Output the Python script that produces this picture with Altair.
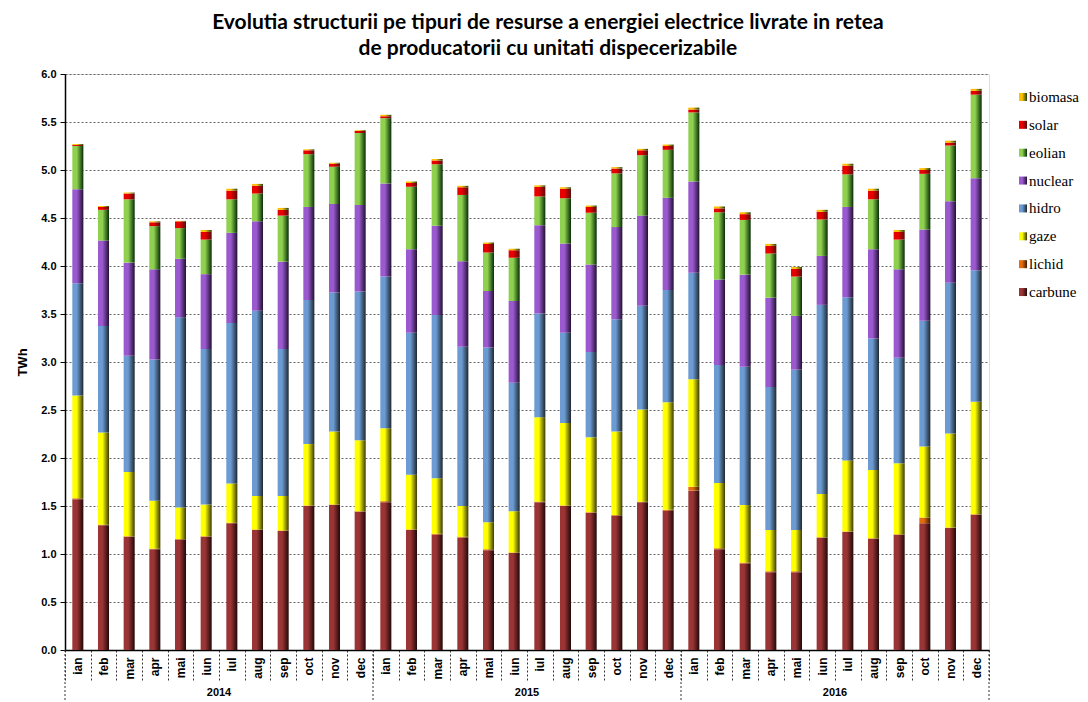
import altair as alt
import pandas as pd

years = ["2014", "2015", "2016"]
months = ["ian", "feb", "mar", "apr", "mai", "iun", "iul", "aug", "sep", "oct", "nov", "dec"]

series_names = ["carbune", "lichid", "gaze", "hidro", "nuclear", "eolian", "solar", "biomasa"]

carbune = [1.57, 1.30, 1.18, 1.05, 1.15, 1.18, 1.32, 1.25, 1.24, 1.50, 1.51, 1.44,
           1.54, 1.25, 1.20, 1.17, 1.04, 1.01, 1.54, 1.50, 1.43, 1.40, 1.54, 1.45,
           1.66, 1.05, 0.90, 0.81, 0.81, 1.17, 1.23, 1.16, 1.20, 1.32, 1.27, 1.41]
lichid = [0.01, 0.005, 0.005, 0.005, 0.005, 0.005, 0.005, 0.005, 0.005, 0.005, 0.005, 0.005,
          0.01, 0.005, 0.01, 0.01, 0.01, 0.005, 0.005, 0.005, 0.005, 0.005, 0.005, 0.01,
          0.04, 0.01, 0.01, 0.01, 0.01, 0.005, 0.005, 0.005, 0.005, 0.06, 0.005, 0.005]
gaze = [1.07, 0.96, 0.67, 0.50, 0.33, 0.33, 0.41, 0.35, 0.36, 0.64, 0.76, 0.74,
        0.76, 0.57, 0.58, 0.32, 0.28, 0.43, 0.88, 0.86, 0.78, 0.87, 0.96, 1.12,
        1.12, 0.68, 0.60, 0.43, 0.43, 0.45, 0.74, 0.71, 0.74, 0.74, 0.98, 1.17]
hidro = [1.17, 1.11, 1.21, 1.47, 1.98, 1.62, 1.67, 1.93, 1.53, 1.50, 1.45, 1.55,
         1.58, 1.48, 1.70, 1.66, 1.82, 1.34, 1.08, 0.94, 0.89, 1.17, 1.08, 1.17,
         1.11, 1.23, 1.44, 1.49, 1.67, 1.97, 1.70, 1.37, 1.10, 1.31, 1.57, 1.37]
nuclear = [0.98, 0.89, 0.97, 0.94, 0.61, 0.78, 0.94, 0.93, 0.91, 0.97, 0.92, 0.90,
           0.97, 0.87, 0.93, 0.89, 0.59, 0.85, 0.92, 0.93, 0.91, 0.96, 0.94, 0.96,
           0.95, 0.89, 0.96, 0.93, 0.56, 0.51, 0.94, 0.93, 0.92, 0.95, 0.85, 0.96]
eolian = [0.45, 0.32, 0.66, 0.45, 0.32, 0.36, 0.35, 0.29, 0.48, 0.55, 0.39, 0.75,
          0.68, 0.65, 0.64, 0.69, 0.40, 0.45, 0.30, 0.47, 0.54, 0.56, 0.63, 0.50,
          0.72, 0.70, 0.57, 0.46, 0.41, 0.38, 0.34, 0.52, 0.31, 0.58, 0.58, 0.87]
solar = [0.01, 0.03, 0.06, 0.04, 0.07, 0.08, 0.09, 0.08, 0.06, 0.04, 0.03, 0.02,
         0.02, 0.04, 0.04, 0.08, 0.09, 0.08, 0.10, 0.10, 0.06, 0.05, 0.05, 0.04,
         0.03, 0.04, 0.06, 0.08, 0.08, 0.08, 0.09, 0.09, 0.08, 0.04, 0.03, 0.04]
biomasa = [0.01, 0.01, 0.01, 0.01, 0.005, 0.02, 0.02, 0.02, 0.02, 0.01, 0.01, 0.01,
           0.015, 0.015, 0.015, 0.015, 0.015, 0.015, 0.015, 0.015, 0.015, 0.015, 0.015, 0.015,
           0.02, 0.02, 0.02, 0.02, 0.02, 0.02, 0.02, 0.02, 0.02, 0.02, 0.02, 0.02]

series_values = [carbune, lichid, gaze, hidro, nuclear, eolian, solar, biomasa]

light = ["#9b3535", "#e46c0a", "#ffff00", "#6b9bd2", "#9b59d0", "#8fd14f", "#e80000", "#ffc000"]
dark = ["#220808", "#3a1b02", "#3a3a00", "#1e2830", "#221034", "#062e06", "#5a0c0c", "#1a4010"]

keys = [f"{y}|{m}" for y in years for m in months]

rows = []
for si, (name, vals) in enumerate(zip(series_names, series_values)):
    for k, v in zip(keys, vals):
        rows.append({"key": k, "series": name, "order": si, "value": v})
df = pd.DataFrame(rows)

W, H = 924, 576


def grad(i):
    return alt.LinearGradient(
        gradient="linear", x1=0, x2=1, y1=0, y2=0,
        stops=[alt.GradientStop(color=light[i], offset=0),
               alt.GradientStop(color=light[i], offset=0.4),
               alt.GradientStop(color=dark[i], offset=1)])


x_enc = alt.X("key:N", sort=keys,
              scale=alt.Scale(paddingInner=0, paddingOuter=0),
              axis=alt.Axis(title=None,
                            labelExpr="split(datum.label, '|')[1]",
                            labelAngle=270, labelAlign="right", labelBaseline="middle",
                            labelFont="Liberation Sans", labelFontWeight="bold",
                            labelFontSize=12, labelColor="black",
                            tickBand="extent", tickSize=32, tickColor="#333",
                            tickDash=[2, 2], labelPadding=-25,
                            domainColor="black", domainWidth=1.5, grid=False))
y_enc = alt.Y("y1:Q", scale=alt.Scale(domain=[0, 6], nice=False),
              axis=alt.Axis(values=[i * 0.5 for i in range(13)], format=".1f",
                            title="TWh", titleFont="Liberation Sans", titleFontSize=13,
                            titleFontWeight="bold", titleColor="black", titlePadding=11,
                            labelFont="Liberation Sans", labelFontWeight="bold",
                            labelFontSize=11, labelColor="black", labelPadding=4,
                            tickSize=5, tickColor="black", domainColor="black",
                            domainWidth=1.5, gridColor="#666", gridDash=[2, 2]))

base = alt.Chart(df).transform_stack(
    stack="value", groupby=["key"], as_=["y0", "y1"],
    sort=[alt.SortField("order", "ascending")])

layers = []
for i, name in enumerate(series_names):
    layers.append(
        base.transform_filter(alt.datum.series == name)
        .mark_bar(color=grad(i), width=alt.RelativeBandSize(0.43))
        .encode(x=x_enc, y=y_enc, y2="y0:Q")
    )

year_df = pd.DataFrame({"key": [f"{y}|iul" for y in years], "year": years})
year_text = alt.Chart(year_df).mark_text(
    font="Liberation Sans", fontWeight="bold", fontSize=11, color="black", baseline="middle"
).encode(x=alt.X("key:N", sort=keys, bandPosition=0), y=alt.value(H + 43), text="year:N")

sep_df = pd.DataFrame({"key": [f"{y}|ian" for y in years]})
sep_rules = alt.Chart(sep_df).mark_rule(color="#333", strokeDash=[2, 2]).encode(
    x=alt.X("key:N", sort=keys, bandPosition=0), y=alt.value(H), y2=alt.value(H + 60))
end_df = pd.DataFrame({"key": [keys[-1]]})
end_rule = alt.Chart(end_df).mark_rule(color="#333", strokeDash=[2, 2]).encode(
    x=alt.X("key:N", sort=keys, bandPosition=1), y=alt.value(H), y2=alt.value(H + 60))

main = alt.layer(*layers, year_text, sep_rules, end_rule).properties(width=W, height=H)

legend_order = ["biomasa", "solar", "eolian", "nuclear", "hidro", "gaze", "lichid", "carbune"]
leg_df = pd.DataFrame({"series": legend_order})
leg_y = alt.Y("series:N", sort=legend_order, axis=None,
              scale=alt.Scale(type="point", padding=0.824))
leg_layers = []
for i, name in enumerate(series_names):
    leg_layers.append(
        alt.Chart(leg_df).transform_filter(alt.datum.series == name)
        .mark_square(size=64, color=grad(i), filled=True, opacity=1)
        .encode(x=alt.value(12), y=leg_y)
    )
leg_text = alt.Chart(leg_df).mark_text(
    align="left", baseline="middle", font="Liberation Serif", fontSize=15, color="black"
).encode(x=alt.value(18), y=leg_y, text="series:N")
legend = alt.layer(*leg_layers, leg_text).properties(
    width=62, height=241, view=alt.ViewBackground(stroke="transparent"))

chart = alt.hconcat(main, legend, spacing=20).properties(
    title=alt.TitleParams(
        ["Evolutia structurii pe tipuri de resurse a energiei electrice livrate in retea",
         "de producatorii cu unitati dispecerizabile"],
        font="Lato", fontSize=21, fontWeight="bold", color="black",
        lineHeight=26, anchor="middle", offset=9),
    padding={"left": 8, "top": 3, "right": 0, "bottom": 0}
).configure_view(stroke="#999").configure(background="white")

chart.save("out.html", embed_options={"renderer": "svg", "actions": False})
